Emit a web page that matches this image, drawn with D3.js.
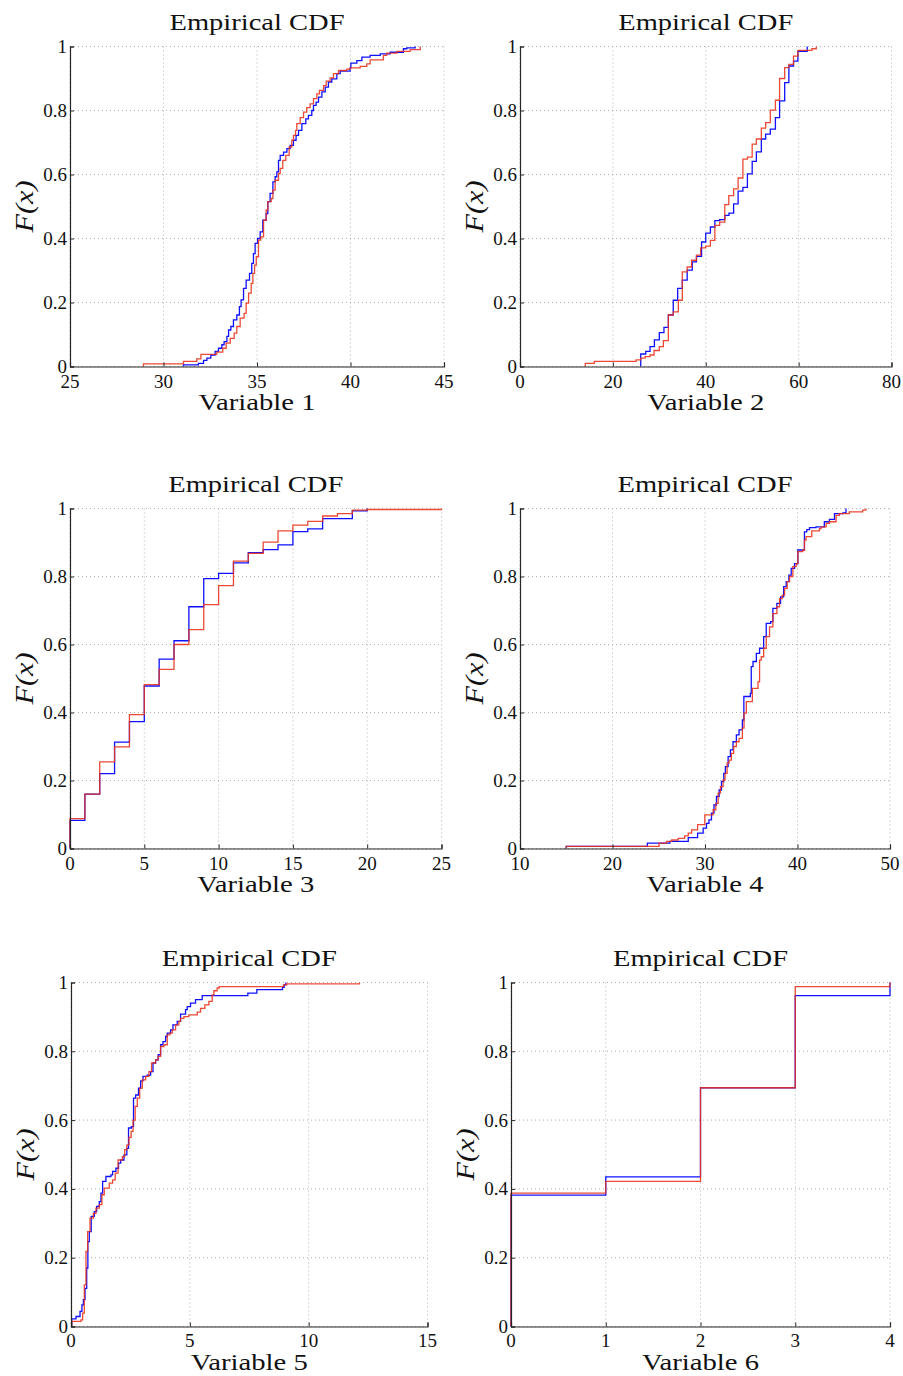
<!DOCTYPE html>
<html>
<head>
<meta charset="utf-8">
<script src="https://cdn.jsdelivr.net/npm/d3@7"></script>
<style>
  body { margin: 0; background: #fff; }
  svg { display: block; }
  text { font-family: "Liberation Serif", Tinos, "Times New Roman", Times, serif; fill: #111; }
</style>
</head>
<body>
<svg id="chart"></svg>
<script>
// ecdf steps: [x, F(x) after the step]
var v1Blue = [[31.07,0.005],[31.87,0.01],[32.14,0.019],[32.32,0.026],[32.53,0.036],[32.76,0.047],[32.94,0.057],[33.12,0.068],[33.24,0.078],[33.39,0.094],[33.48,0.114],[33.6,0.125],[33.74,0.146],[33.92,0.161],[34.06,0.187],[34.15,0.208],[34.28,0.244],[34.42,0.27],[34.6,0.291],[34.72,0.322],[34.81,0.353],[34.9,0.385],[35.03,0.4],[35.17,0.421],[35.31,0.457],[35.49,0.478],[35.58,0.515],[35.7,0.541],[35.85,0.577],[35.97,0.593],[36.06,0.608],[36.15,0.644],[36.24,0.66],[36.42,0.67],[36.6,0.681],[36.77,0.691],[36.95,0.707],[37.09,0.722],[37.22,0.738],[37.4,0.759],[37.61,0.774],[37.75,0.785],[37.93,0.8],[38.02,0.816],[38.16,0.826],[38.29,0.842],[38.47,0.858],[38.65,0.873],[38.82,0.889],[39.0,0.899],[39.27,0.915],[39.45,0.923],[39.98,0.933],[40.02,0.948],[40.34,0.956],[40.61,0.967],[41.05,0.972],[41.59,0.977],[42.12,0.982],[42.83,0.993],[43.01,0.996],[43.46,1.0]];
var v1Red = [[28.93,0.008],[31.07,0.016],[31.78,0.024],[32.0,0.038],[32.85,0.045],[33.17,0.057],[33.35,0.073],[33.57,0.088],[33.78,0.104],[33.92,0.125],[34.1,0.151],[34.31,0.166],[34.42,0.198],[34.55,0.229],[34.69,0.26],[34.78,0.291],[34.87,0.317],[34.96,0.343],[35.08,0.395],[35.2,0.405],[35.35,0.457],[35.49,0.489],[35.58,0.515],[35.76,0.525],[35.85,0.551],[35.97,0.582],[36.15,0.603],[36.24,0.619],[36.38,0.644],[36.54,0.66],[36.72,0.686],[36.86,0.707],[36.95,0.722],[37.06,0.738],[37.13,0.759],[37.31,0.778],[37.49,0.795],[37.66,0.809],[37.84,0.821],[38.02,0.837],[38.2,0.852],[38.34,0.863],[38.56,0.878],[38.7,0.892],[38.91,0.902],[39.09,0.915],[39.36,0.925],[39.8,0.929],[39.98,0.933],[40.52,0.938],[40.87,0.946],[41.05,0.958],[41.76,0.972],[41.94,0.979],[42.48,0.985],[43.19,0.99],[43.73,1.0]];

var v2Blue = [[26.0,0.039],[27.08,0.047],[28.0,0.062],[28.94,0.083],[30.0,0.106],[31.0,0.122],[31.95,0.161],[33.0,0.207],[33.95,0.244],[34.95,0.27],[36.0,0.301],[37.1,0.327],[38.0,0.344],[39.1,0.389],[40.0,0.417],[41.0,0.436],[41.96,0.456],[43.0,0.459],[44.1,0.472],[45.0,0.479],[46.0,0.508],[46.97,0.548],[48.0,0.56],[48.97,0.602],[50.0,0.641],[50.9,0.671],[51.97,0.711],[52.9,0.726],[53.9,0.742],[55.0,0.778],[55.9,0.83],[57.0,0.887],[57.9,0.939],[58.9,0.954],[59.84,0.985],[61.85,1.0]];
var v2Red = [[14.06,0.01],[16.0,0.016],[25.0,0.021],[26.0,0.026],[26.94,0.031],[28.0,0.036],[28.87,0.05],[30.0,0.062],[30.87,0.081],[31.95,0.161],[33.0,0.171],[34.1,0.207],[34.95,0.296],[36.0,0.311],[36.95,0.332],[38.0,0.348],[38.9,0.371],[40.0,0.376],[41.0,0.394],[41.96,0.441],[43.0,0.451],[44.1,0.506],[44.96,0.534],[46.0,0.555],[46.97,0.589],[48.0,0.648],[48.97,0.654],[50.0,0.695],[50.9,0.711],[51.97,0.745],[52.9,0.762],[53.9,0.801],[55.0,0.832],[55.9,0.9],[57.0,0.934],[57.9,0.944],[58.9,0.97],[59.84,0.988],[62.85,0.993],[63.8,1.0]];

var v3Blue = [[0,0.083],[1,0.16],[2,0.22],[3,0.313],[4,0.373],[5,0.478],[6,0.557],[7,0.611],[8,0.711],[9,0.794],[10,0.809],[11,0.84],[12,0.87],[13,0.879],[14,0.893],[15,0.932],[16,0.94],[17,0.97],[19,0.993],[20,1.0]];
var v3Red = [[0,0.088],[1,0.16],[2,0.255],[3,0.299],[4,0.394],[5,0.482],[6,0.527],[7,0.6],[8,0.644],[9,0.717],[10,0.773],[11,0.845],[12,0.868],[13,0.901],[14,0.934],[15,0.951],[16,0.962],[17,0.978],[18,0.985],[19,0.995],[20,0.997],[25,1.0]];

var v4Blue = [[15.0,0.006],[23.77,0.016],[26.2,0.021],[28.19,0.032],[29.2,0.045],[29.8,0.06],[30.16,0.074],[30.43,0.084],[30.7,0.104],[30.97,0.128],[31.24,0.153],[31.53,0.172],[31.78,0.197],[32.03,0.221],[32.2,0.241],[32.5,0.27],[32.75,0.29],[33.03,0.314],[33.39,0.334],[33.68,0.349],[34.04,0.378],[34.2,0.447],[34.9,0.456],[35.0,0.535],[35.19,0.55],[35.55,0.574],[35.9,0.589],[36.34,0.623],[36.62,0.662],[37.1,0.667],[37.34,0.706],[37.77,0.721],[38.17,0.74],[38.5,0.77],[38.78,0.785],[39.07,0.804],[39.32,0.824],[39.68,0.838],[40.04,0.878],[40.75,0.931],[41.0,0.938],[41.3,0.944],[42.0,0.946],[42.9,0.961],[43.45,0.968],[44.0,0.985],[44.9,0.987],[45.24,1.0]];
var v4Red = [[15.0,0.006],[25.03,0.016],[25.85,0.021],[26.4,0.025],[27.1,0.03],[27.8,0.037],[28.19,0.045],[28.55,0.055],[29.2,0.07],[29.98,0.099],[30.88,0.114],[31.17,0.133],[31.42,0.163],[31.67,0.182],[31.96,0.202],[32.17,0.221],[32.39,0.251],[32.6,0.26],[32.85,0.28],[33.1,0.3],[33.39,0.314],[33.68,0.324],[34.04,0.354],[34.22,0.398],[34.47,0.432],[35.12,0.471],[35.73,0.49],[35.9,0.554],[36.08,0.564],[36.34,0.589],[36.62,0.623],[36.98,0.652],[37.34,0.691],[37.77,0.711],[38.06,0.735],[38.35,0.745],[38.6,0.765],[38.89,0.785],[39.14,0.8],[39.5,0.829],[39.86,0.838],[40.04,0.873],[40.57,0.878],[40.75,0.907],[40.93,0.917],[41.54,0.934],[42.37,0.941],[42.55,0.946],[43.1,0.956],[43.45,0.961],[44.17,0.98],[44.53,0.985],[45.6,0.99],[47.04,0.995],[47.4,1.0]];

var v5Blue = [[0.03,0.022],[0.21,0.029],[0.38,0.044],[0.46,0.063],[0.52,0.078],[0.59,0.111],[0.66,0.17],[0.71,0.247],[0.77,0.276],[0.85,0.32],[0.98,0.334],[1.08,0.349],[1.19,0.363],[1.26,0.388],[1.33,0.422],[1.47,0.436],[1.68,0.441],[1.75,0.451],[1.89,0.46],[2.0,0.475],[2.09,0.484],[2.23,0.499],[2.35,0.518],[2.42,0.577],[2.54,0.581],[2.63,0.664],[2.72,0.673],[2.84,0.693],[2.93,0.714],[3.03,0.727],[3.21,0.731],[3.35,0.741],[3.45,0.766],[3.56,0.775],[3.67,0.79],[3.77,0.819],[3.87,0.828],[3.98,0.843],[4.05,0.853],[4.19,0.862],[4.29,0.877],[4.47,0.887],[4.61,0.908],[4.82,0.921],[4.89,0.93],[5.03,0.94],[5.24,0.95],[5.52,0.962],[7.44,0.969],[7.82,0.979],[8.9,0.986],[8.97,0.993],[9.04,1.0]];
var v5Red = [[0.03,0.015],[0.42,0.019],[0.49,0.039],[0.56,0.121],[0.63,0.218],[0.7,0.276],[0.8,0.315],[0.94,0.329],[1.05,0.344],[1.19,0.354],[1.3,0.383],[1.4,0.402],[1.61,0.417],[1.75,0.426],[1.86,0.446],[1.98,0.484],[2.16,0.494],[2.26,0.514],[2.35,0.528],[2.44,0.55],[2.53,0.567],[2.61,0.6],[2.7,0.64],[2.79,0.664],[2.89,0.693],[3.0,0.717],[3.14,0.727],[3.28,0.741],[3.39,0.766],[3.56,0.775],[3.66,0.785],[3.77,0.814],[3.91,0.819],[4.05,0.848],[4.16,0.853],[4.26,0.862],[4.4,0.877],[4.54,0.887],[4.61,0.896],[4.75,0.901],[4.96,0.906],[5.31,0.914],[5.45,0.925],[5.63,0.935],[5.8,0.945],[5.94,0.964],[6.01,0.976],[6.15,0.984],[6.24,0.988],[8.94,0.993],[9.08,0.996],[12.14,1.0]];

var v6Blue = [[0,0.382],[1,0.435],[2,0.694],[3,0.962],[4,1.0]];
var v6Red = [[0,0.388],[1,0.422],[2,0.694],[3,0.988],[4,1.0]];

var blueSeries = [v1Blue, v2Blue, v3Blue, v4Blue, v5Blue, v6Blue];
var redSeries = [v1Red, v2Red, v3Red, v4Red, v5Red, v6Red];

var xDomains = [[25, 45], [0, 80], [0, 25], [10, 50], [0, 15], [0, 4]];
var xTickValues = [
  [25, 30, 35, 40, 45],
  [0, 20, 40, 60, 80],
  [0, 5, 10, 15, 20, 25],
  [10, 20, 30, 40, 50],
  [0, 5, 10, 15],
  [0, 1, 2, 3, 4]
];
var yTickValues = [0, 0.2, 0.4, 0.6, 0.8, 1];
var xLabels = ["Variable 1", "Variable 2", "Variable 3", "Variable 4", "Variable 5", "Variable 6"];
var titleText = "Empirical CDF";

// plot boxes for the 3x2 grid
var boxes = [
  { l: 70,  r: 444,   t: 46.5,  b: 366.5 },
  { l: 520, r: 891.5, t: 46.5,  b: 366.5 },
  { l: 70,  r: 441.5, t: 508.5, b: 848.5 },
  { l: 520, r: 890,   t: 508.5, b: 848.5 },
  { l: 71,  r: 427.5, t: 982.5, b: 1326.5 },
  { l: 511, r: 890,   t: 982.5, b: 1326.5 }
];
var titleY = [29.5, 29.5, 491.5, 491.5, 966, 966];
var xlabelY = [410, 410, 892, 892, 1370, 1370];
var xTickGap = [21, 21, 21, 21, 20, 20];

var serif = "'Liberation Serif', Tinos, 'Times New Roman', Times, serif";

var svg = d3.select("#chart")
  .attr("width", 903)
  .attr("height", 1376)
  .attr("font-family", serif);

svg.append("rect").attr("width", 903).attr("height", 1376).attr("fill", "#fff");

function drawPanel(i) {
  var box = boxes[i];
  var x = d3.scaleLinear().domain(xDomains[i]).range([box.l, box.r]);
  var y = d3.scaleLinear().domain([0, 1]).range([box.b, box.t]);
  var g = svg.append("g");

  // dotted grid
  g.selectAll(".gx")
    .data(xTickValues[i])
    .enter()
    .append("line")
    .attr("x1", d => x(d)).attr("x2", d => x(d))
    .attr("y1", box.t).attr("y2", box.b)
    .attr("stroke", "#b0b0b0")
    .attr("stroke-width", 1)
    .attr("stroke-dasharray", "1,3");

  g.selectAll(".gy")
    .data(yTickValues)
    .enter()
    .append("line")
    .attr("x1", box.l).attr("x2", box.r)
    .attr("y1", d => y(d)).attr("y2", d => y(d))
    .attr("stroke", "#b0b0b0")
    .attr("stroke-width", 1)
    .attr("stroke-dasharray", "1,3");

  // ecdf stairs
  var line = d3.line()
    .x(d => x(d[0]))
    .y(d => y(d[1]))
    .curve(d3.curveStepAfter);

  function stairs(data) {
    return [[data[0][0], 0]].concat(data);
  }

  g.append("path")
    .attr("d", line(stairs(blueSeries[i])))
    .attr("fill", "none")
    .attr("stroke", "#1010ff")
    .attr("stroke-width", 1.3);

  g.append("path")
    .attr("d", line(stairs(redSeries[i])))
    .attr("fill", "none")
    .attr("stroke", "#e8301a")
    .attr("stroke-opacity", 0.88)
    .attr("stroke-width", 1.3);

  // axes: ticks point inward, labels drawn separately
  var xAxis = d3.axisBottom(x).tickValues(xTickValues[i]).tickSize(-4).tickFormat("");
  var yAxis = d3.axisLeft(y).tickValues(yTickValues).tickSize(-4).tickFormat("");

  var gx = g.append("g").attr("transform", "translate(0," + box.b + ")").call(xAxis);
  var gy = g.append("g").attr("transform", "translate(" + box.l + ",0)").call(yAxis);
  [gx, gy].forEach(function(a) {
    a.select(".domain").attr("stroke", "#262626").attr("stroke-width", 1.2);
    a.selectAll(".tick line").attr("stroke", "#262626");
  });

  g.selectAll(".xt")
    .data(xTickValues[i])
    .enter()
    .append("text")
    .attr("x", d => x(d))
    .attr("y", box.b + xTickGap[i])
    .attr("text-anchor", "middle")
    .attr("font-family", serif)
    .attr("font-size", "19px")
    .text(d => d);

  g.selectAll(".yt")
    .data(yTickValues)
    .enter()
    .append("text")
    .attr("x", box.l - 3)
    .attr("y", d => y(d))
    .attr("dy", "0.34em")
    .attr("text-anchor", "end")
    .attr("font-family", serif)
    .attr("font-size", "19px")
    .text(d => d3.format("~g")(d));

  var cx = (box.l + box.r) / 2;

  g.append("text")
    .attr("x", cx)
    .attr("y", titleY[i])
    .attr("text-anchor", "middle")
    .attr("font-family", serif)
    .attr("font-size", "24px")
    .attr("textLength", 175)
    .attr("lengthAdjust", "spacingAndGlyphs")
    .text(titleText);

  g.append("text")
    .attr("x", cx)
    .attr("y", xlabelY[i])
    .attr("text-anchor", "middle")
    .attr("font-family", serif)
    .attr("font-size", "24px")
    .attr("textLength", 117)
    .attr("lengthAdjust", "spacingAndGlyphs")
    .text(xLabels[i]);

  g.append("text")
    .attr("transform", "translate(" + (box.l - 37) + "," + ((box.t + box.b) / 2) + ") rotate(-90)")
    .attr("text-anchor", "middle")
    .attr("font-family", serif)
    .attr("font-size", "26px")
    .attr("font-style", "italic")
    .attr("textLength", 52)
    .attr("lengthAdjust", "spacingAndGlyphs")
    .text("F(x)");
}

for (var i = 0; i < 6; i++) {
  drawPanel(i);
}
</script>
</body>
</html>
